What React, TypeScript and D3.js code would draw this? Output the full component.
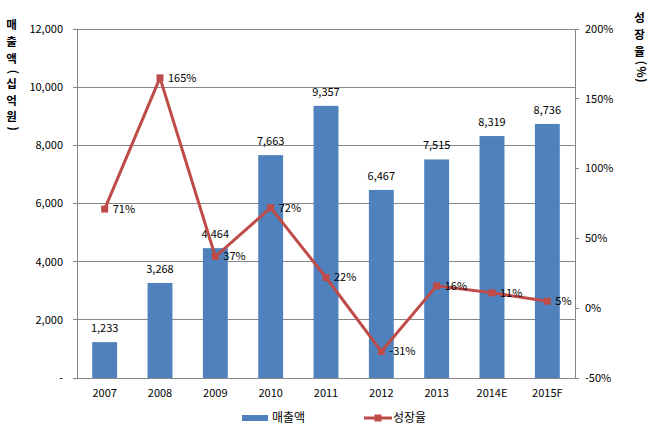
import React from "react";
import * as d3 from "d3";

const years = ["2007", "2008", "2009", "2010", "2011", "2012", "2013", "2014E", "2015F"];
const sales = [1233, 3268, 4464, 7663, 9357, 6467, 7515, 8319, 8736];
const growth = [71, 165, 37, 72, 22, -31, 16, 11, 5];
const leftTicks = [0, 2000, 4000, 6000, 8000, 10000, 12000];
const rightTicks = [-50, 0, 50, 100, 150, 200];
const leftTitle = "매출액 (십억원)";
const rightTitle = "성장율(%)";

const W = 652, H = 434;
const L = 77, R = 575, T = 29, B = 378;
const BAR = "#4f81bd", LINE = "#be4b48", GRID = "#868686";
const FONT = "'Malgun Gothic', 'Noto Sans CJK KR', sans-serif";
const TFS = 11.5;

function VerticalTitle({ text, x, y }: { text: string; x: number; y: number }) {
  const spans: React.ReactNode[] = [];
  let pos = y;
  Array.from(text).forEach((ch, i) => {
    if (ch === " ") {
      pos += 2;
      return;
    }
    const isKo = /[\uAC00-\uD7A3]/.test(ch);
    if (isKo) {
      const adv = TFS * 1.46;
      spans.push(
        <tspan key={i} x={x - TFS / 2} y={pos + adv / 2 + TFS * 0.4}>{ch}</tspan>
      );
      pos += adv;
    } else {
      const adv = ch === "%" ? 11 : 6.5;
      const gw = ch === "%" ? TFS * 0.85 : TFS * 0.33;
      spans.push(
        <tspan key={i} x={x - TFS * 0.3} y={pos + (adv - gw) / 2} rotate="90">{ch}</tspan>
      );
      pos += adv;
    }
  });
  return (
    <text fontSize={TFS} fontWeight="bold" fill="#000">
      {spans}
    </text>
  );
}

export default function App() {
  const x = d3.scaleBand<string>().domain(years).range([L, R]).paddingInner(0.55).paddingOuter(0.275);
  const yL = d3.scaleLinear().domain([0, 12000]).range([B, T]);
  const yR = d3.scaleLinear().domain([-50, 200]).range([B, T]);
  const fmt = d3.format(",");
  const cx = (y: string) => (x(y) ?? 0) + x.bandwidth() / 2;
  const line = d3.line<number>().x((_, i) => cx(years[i])).y((d) => yR(d));

  return (
    <svg width={W} height={H} style={{ position: "absolute", left: 0, top: 0, background: "#fff" }} fontFamily={FONT}>
      {leftTicks.map((t) => (
        <g key={t}>
          <line x1={L - 4} x2={R} y1={yL(t)} y2={yL(t)} stroke={GRID} strokeWidth={1} shapeRendering="crispEdges" />
          <text x={63} y={yL(t)} dy="0.35em" textAnchor="end" fontSize={11} fill="#000">
            {t === 0 ? "-" : fmt(t)}
          </text>
        </g>
      ))}
      {rightTicks.map((t) => (
        <g key={t}>
          <line x1={R} x2={R + 4} y1={yR(t)} y2={yR(t)} stroke={GRID} shapeRendering="crispEdges" />
          <text x={585} y={yR(t)} dy="0.35em" textAnchor="start" fontSize={11} fill="#000">
            {t}%
          </text>
        </g>
      ))}
      <line x1={L} x2={L} y1={T} y2={B} stroke={GRID} shapeRendering="crispEdges" />
      <line x1={R} x2={R} y1={T} y2={B} stroke={GRID} shapeRendering="crispEdges" />
      {years.map((yr, i) => (
        <g key={yr}>
          <rect x={x(yr)} y={yL(sales[i])} width={x.bandwidth()} height={B - yL(sales[i])} fill={BAR} />
          <text x={cx(yr)} y={yL(sales[i]) - 10} textAnchor="middle" fontSize={11} fill="#000">
            {fmt(sales[i])}
          </text>
          <text x={cx(yr)} y={393} dy="0.35em" textAnchor="middle" fontSize={11} fill="#000">
            {yr}
          </text>
        </g>
      ))}
      <path d={line(growth) ?? ""} fill="none" stroke={LINE} strokeWidth={3} strokeLinejoin="round" />
      {years.map((yr, i) => (
        <g key={"m" + yr}>
          <rect x={cx(yr) - 3.5} y={yR(growth[i]) - 3.5} width={7} height={7} fill={LINE} />
          <text x={cx(yr) + 8} y={yR(growth[i])} dy="0.35em" textAnchor="start" fontSize={11} fill="#000">
            {growth[i]}%
          </text>
        </g>
      ))}
      <VerticalTitle text={leftTitle} x={12} y={16} />
      <VerticalTitle text={rightTitle} x={640} y={9} />
      <rect x={242} y={415} width={26} height={6} fill={BAR} />
      <text x={272} y={418} dy="0.35em" fontSize={12} fill="#000">매출액</text>
      <line x1={364} x2={392} y1={418} y2={418} stroke={LINE} strokeWidth={3} />
      <rect x={374.5} y={414.5} width={7} height={7} fill={LINE} />
      <text x={393} y={418} dy="0.35em" fontSize={12} fill="#000">성장율</text>
    </svg>
  );
}
